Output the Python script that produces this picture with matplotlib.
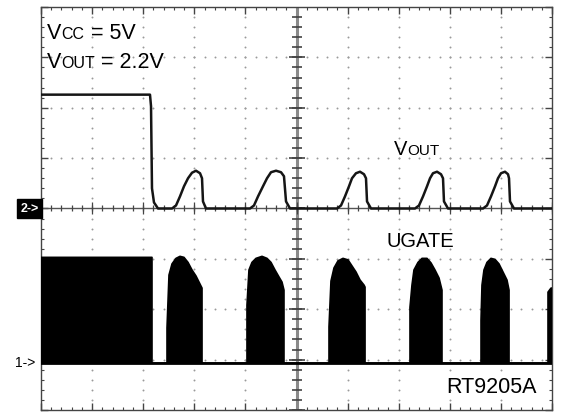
import numpy as np
import matplotlib
matplotlib.use("Agg")
import matplotlib.pyplot as plt
from matplotlib.offsetbox import TextArea, HPacker, AnnotationBbox

plt.rcParams['font.family'] = ['Liberation Sans', 'DejaVu Sans']

# scope screen: 10 x 8 divisions, values in divisions
# VOUT (ch2, 1 div above/below centre line = ground)
t_vout = [0, 2.133, 2.153, 2.172, 2.211, 2.290,
          2.564, 2.642, 2.720, 2.798, 2.877, 2.955, 3.033, 3.112, 3.151, 3.170, 3.229,
          4.090, 4.168, 4.247, 4.344, 4.423, 4.501, 4.599, 4.697, 4.755, 4.795, 4.873,
          5.793, 5.871, 5.949, 6.027, 6.086, 6.164, 6.243, 6.321, 6.360, 6.380, 6.458,
          7.319, 7.397, 7.476, 7.554, 7.613, 7.671, 7.750, 7.828, 7.867, 7.886, 7.965,
          8.650, 8.728, 8.806, 8.885, 8.943, 9.002, 9.080, 9.139, 9.159, 9.178, 9.256,
          10.0]
v_vout = [2.26, 2.26, 2.03, 0.40, 0.12, 0.0,
          0.0, 0.06, 0.24, 0.44, 0.60, 0.71, 0.75, 0.70, 0.60, 0.14, 0.0,
          0.0, 0.06, 0.24, 0.44, 0.60, 0.72, 0.75, 0.72, 0.64, 0.14, 0.0,
          0.0, 0.06, 0.24, 0.44, 0.60, 0.70, 0.73, 0.68, 0.60, 0.14, 0.0,
          0.0, 0.06, 0.24, 0.44, 0.60, 0.70, 0.73, 0.68, 0.60, 0.14, 0.0,
          0.0, 0.06, 0.24, 0.44, 0.60, 0.70, 0.73, 0.68, 0.60, 0.14, 0.0,
          0.0]

# UGATE (ch1) envelope of the switching bursts, divisions above ch1 ground
t_ug = [0, 0, 2.172, 2.172,
        2.466, 2.466, 2.505, 2.564, 2.642, 2.720, 2.798, 2.877, 2.955, 3.033, 3.092, 3.151, 3.151,
        4.031, 4.031, 4.070, 4.129, 4.207, 4.325, 4.423, 4.501, 4.579, 4.658, 4.716, 4.755, 4.755,
        5.636, 5.636, 5.675, 5.734, 5.812, 5.910, 6.008, 6.086, 6.164, 6.243, 6.321, 6.341, 6.341,
        7.221, 7.221, 7.260, 7.299, 7.378, 7.456, 7.554, 7.632, 7.710, 7.789, 7.847, 7.847,
        8.611, 8.611, 8.630, 8.669, 8.728, 8.806, 8.885, 8.963, 9.041, 9.119, 9.159, 9.159,
        9.922, 9.922, 9.981, 10.0, 10.0]
v_ug = [0, 2.10, 2.10, 0,
        0, 0.70, 1.75, 1.97, 2.08, 2.12, 2.10, 2.00, 1.85, 1.73, 1.61, 1.49, 0,
        0, 1.15, 1.85, 2.00, 2.08, 2.12, 2.08, 2.00, 1.85, 1.71, 1.61, 1.45, 0,
        0, 0.72, 1.63, 1.89, 2.03, 2.08, 2.05, 1.93, 1.81, 1.65, 1.55, 1.51, 0,
        0, 1.11, 1.55, 1.85, 2.00, 2.08, 2.08, 1.99, 1.85, 1.69, 1.45, 0,
        0, 0.85, 1.55, 1.85, 2.00, 2.08, 2.06, 1.97, 1.81, 1.65, 1.45, 0,
        0, 1.41, 1.49, 1.49, 0]

ch2_ground = 4.0
ch1_ground = 0.93

fig = plt.figure(figsize=(5.63, 4.15), dpi=100)
ax = fig.add_axes([41/563, 5/415, 511/563, 403/415])
ax.set_xlim(0, 10)
ax.set_ylim(0, 8)

# dotted graticule
dot_x = np.arange(0, 10.01, 0.2)
dot_y = np.arange(0, 8.01, 0.2)
for gy in [1, 2, 3, 5, 6, 7]:
    ax.plot(dot_x, np.full_like(dot_x, gy), ls='none', marker='o', ms=1.4,
            color='#9a9a9a', mew=0, zorder=1)
for gx in [1, 2, 3, 4, 6, 7, 8, 9]:
    ax.plot(np.full_like(dot_y, gx), dot_y, ls='none', marker='o', ms=1.4,
            color='#9a9a9a', mew=0, zorder=1)

# centre axes with tick marks
ax.axhline(4, color='#555555', lw=1.0, zorder=2)
ax.axvline(5, color='#8a8a8a', lw=2.2, zorder=2)
ax.plot(dot_x, np.full_like(dot_x, 4), ls='none', marker='|', ms=5, mew=0.9,
        color='#444444', zorder=2)
ax.plot(np.arange(0, 11), np.full(11, 4), ls='none', marker='|', ms=9, mew=0.9,
        color='#444444', zorder=2)
ax.plot(np.full_like(dot_y, 5), dot_y, ls='none', marker='_', ms=7, mew=1.2,
        color='#444444', zorder=2)
ax.plot(np.full(9, 5), np.arange(0, 9), ls='none', marker='_', ms=12, mew=1.2,
        color='#444444', zorder=2)

# frame ticks
ax.set_xticks(np.arange(0, 11))
ax.set_yticks(np.arange(0, 9))
ax.set_xticks(dot_x, minor=True)
ax.set_yticks(dot_y, minor=True)
ax.tick_params(which='both', direction='in', top=True, right=True,
               labelbottom=False, labelleft=False, color='#444444')
ax.tick_params(which='major', length=5, width=1.0)
ax.tick_params(which='minor', length=2.5, width=0.8)
for s in ax.spines.values():
    s.set_color('#444444')
    s.set_linewidth(1.0)

# traces
ug = ch1_ground + np.array(v_ug)
ax.fill(t_ug, ug, color='black', lw=0, zorder=4)
ax.plot(t_ug, ug, color='black', lw=1.2, zorder=4)
ax.plot([0, 10], [ch1_ground, ch1_ground], color='black', lw=2.0, zorder=4)
ax.plot(t_vout, ch2_ground + np.array(v_vout), color='#151515', lw=1.8, zorder=5)


def label(parts, xy, align=(0, 0.5)):
    kids = [TextArea(s, textprops=dict(fontsize=fs, color='black')) for s, fs in parts]
    box = HPacker(children=kids, align='baseline', pad=0, sep=0)
    ab = AnnotationBbox(box, xy, xycoords='data', box_alignment=align,
                        frameon=False, pad=0, zorder=6)
    ax.add_artist(ab)


label([("V", 15.5), ("CC", 11.5), (" = 5V", 15.5)], (0.12, 7.48))
label([("V", 15.5), ("OUT", 11.5), (" = 2.2V", 15.5)], (0.12, 6.9))
label([("V", 14.5), ("OUT", 11)], (6.9, 5.18))
label([("UGATE", 14.5)], (6.76, 3.35))
label([("RT9205A", 15.5)], (9.7, 0.44), align=(1, 0.5))

# channel ground markers
ax.text(-0.005, ch2_ground, "2->", transform=ax.get_yaxis_transform(),
        ha='right', va='center', fontsize=9, fontweight='bold', color='white',
        bbox=dict(boxstyle='square,pad=0.25', fc='black', ec='black'), clip_on=False)
ax.text(-0.012, ch1_ground, "1->", transform=ax.get_yaxis_transform(),
        ha='right', va='center', fontsize=10, color='black', clip_on=False)

fig.savefig("out.png", dpi=100)
